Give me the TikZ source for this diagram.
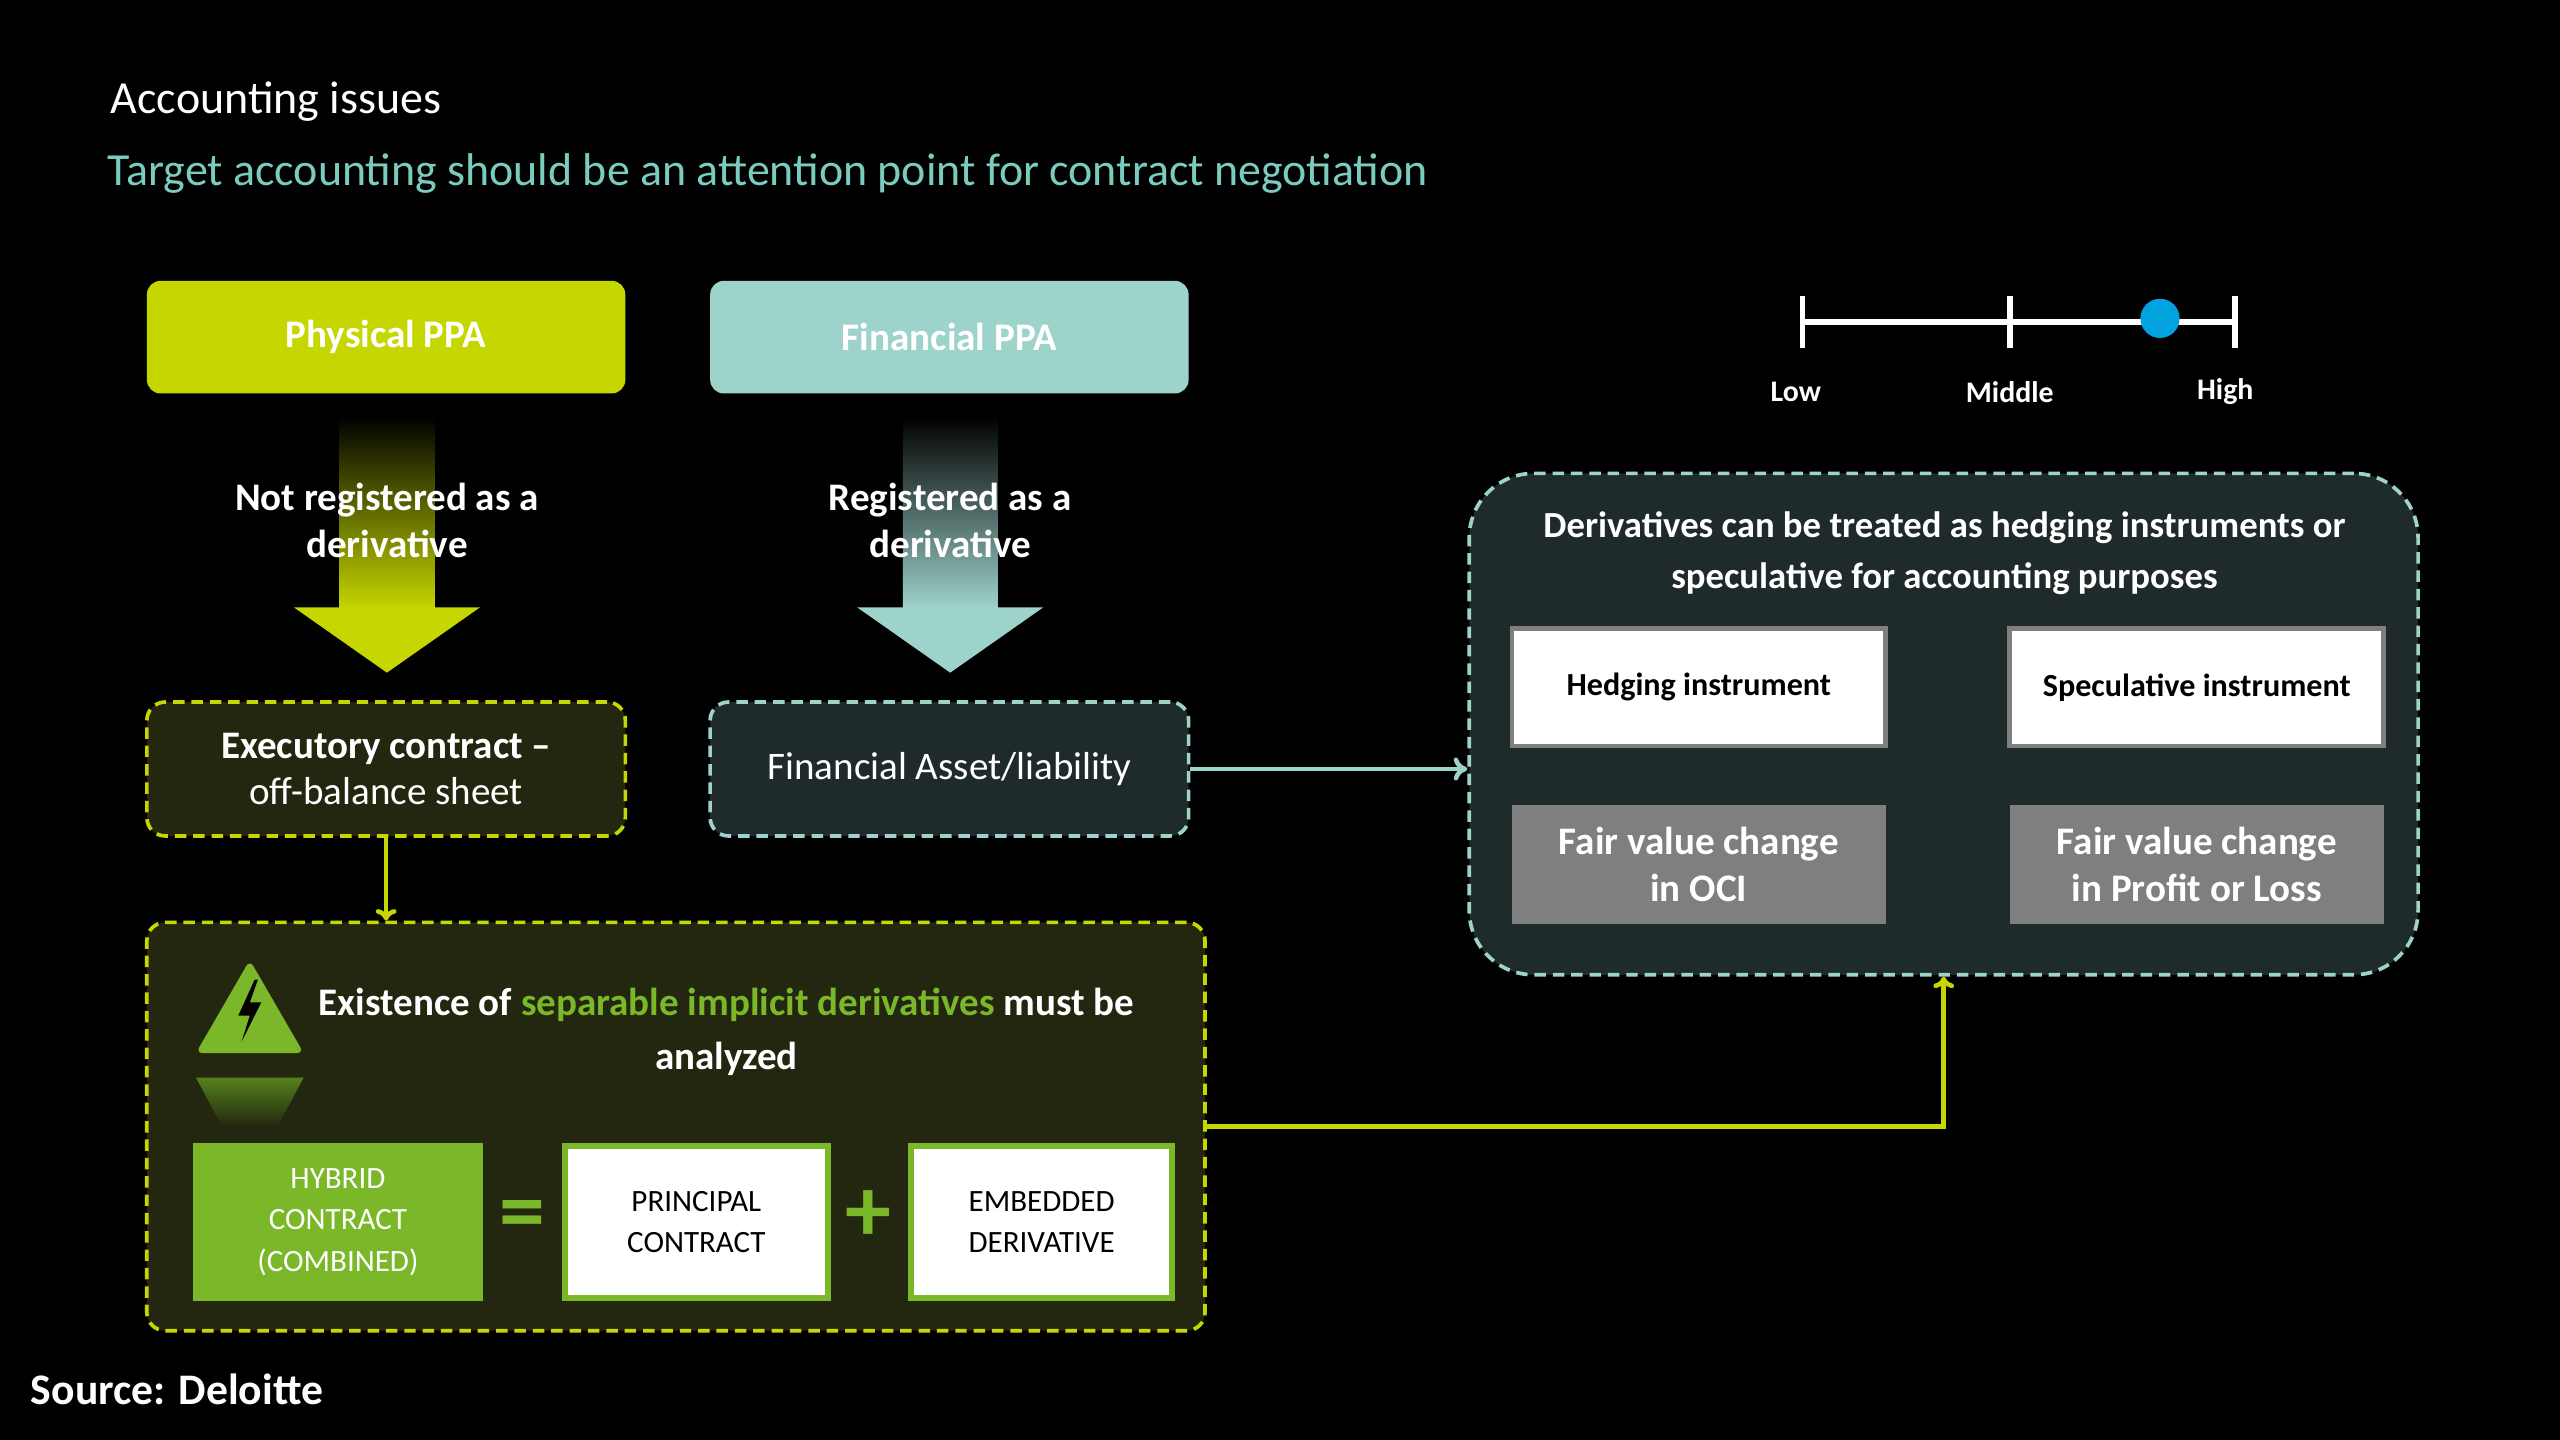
\documentclass[tikz,border=0pt]{standalone}
\usepackage{fontspec}
\setmainfont{Carlito}
\usetikzlibrary{arrows.meta}
\definecolor{lime}{HTML}{C5D600}
\definecolor{teal}{HTML}{9ED3CC}
\definecolor{subteal}{HTML}{7ACCC0}
\definecolor{leaf}{HTML}{7AB829}
\definecolor{olivebg}{HTML}{23270F}
\definecolor{tealbg}{HTML}{1F2A2A}
\definecolor{greybox}{HTML}{7F7F7F}
\definecolor{dotblue}{HTML}{00A3E0}
\newcommand{\fs}[1]{\fontsize{#1}{1.2\dimexpr#1pt\relax}\selectfont}
\tikzset{
  ppa/.style={rounded corners=6pt, minimum width=7.325cm, minimum height=1.725cm, text=white, font=\fs{17}\bfseries},
  dashbox/.style={rounded corners=8pt, line width=1.6pt, dash pattern=on 5pt off 3pt, text=white, align=center},
  whitebox/.style={fill=white, line width=2pt, minimum width=5.725cm, minimum height=1.8cm, font=\fs{14}\bfseries},
  fvbox/.style={fill=greybox, minimum width=5.725cm, minimum height=1.825cm, text=white, align=center, font=\fs{17}\bfseries},
  eqbox/.style={line width=2.5pt, minimum height=2.325cm, align=center, font=\fs{13.5}},
}
\begin{document}
\begin{tikzpicture}[x=0.025cm, y=-0.025cm]
\fill[black] (0,0) rectangle (1568,882);
\useasboundingbox (0,0) rectangle (1568,882);
% titles
\node[anchor=west, text=white, font=\fs{20}] (title) at (63,62) {Accounting issues};
\node[anchor=west, text=subteal, font=\fs{20}] (subtitle) at (61,106) {Target accounting should be an attention point for contract negotiation};
% two PPA columns
\node[ppa, fill=lime] (phys) at (236.5,206.5) {Physical PPA};
\node[ppa, fill=teal] (fin) at (581.5,206.5) {Financial PPA};
\shade[top color=black, bottom color=lime] (208,255) rectangle (266,373);
\fill[lime] (180,372) -- (294,372) -- (237,412) -- cycle;
\shade[top color=black, bottom color=teal] (553,255) rectangle (611,373);
\fill[teal] (525,372) -- (639,372) -- (582,412) -- cycle;
\node[text=white, align=center, font=\fs{17}\bfseries] (notreg) at (237,319) {Not registered as a\\derivative};
\node[text=white, align=center, font=\fs{17}\bfseries] (reg) at (582,319) {Registered as a\\derivative};
\node[dashbox, draw=lime, fill=olivebg, minimum width=7.325cm, minimum height=2.05cm, font=\fs{17}] (exec) at (236.5,471) {\textbf{Executory contract --}\\off-balance sheet};
\node[dashbox, draw=teal, fill=tealbg, minimum width=7.325cm, minimum height=2.05cm, font=\fs{17}] (asset) at (581.5,471) {Financial Asset/liability};
% hybrid contract panel
\node[dashbox, draw=lime, fill=olivebg, minimum width=16.2cm, minimum height=6.25cm] (hybridpanel) at (414,690) {};
\fill[leaf, rounded corners=3pt] (120,645) -- (186,645) -- (153,588) -- cycle;
\fill[black] (156,600) -- (146,622) -- (153,622) -- (148,638) -- (160,614) -- (153,614) -- (158,600) -- cycle;
\shade[top color=leaf!70!black, bottom color=olivebg] (120,660) -- (186,660) -- (170,690) -- (136,690) -- cycle;
\node[text=white, align=center, font=\fs{17}\bfseries] (exist) at (445,632) {Existence of \textcolor{leaf}{separable implicit derivatives} must be\\[3pt]analyzed};
\node[eqbox, fill=leaf, draw=leaf, minimum width=4.35cm, text=white] (hybrid) at (207,748.5) {HYBRID\\[2pt]CONTRACT\\[2pt](COMBINED)};
\node[text=leaf, font=\fs{40}\bfseries] (eq) at (320,748) {=};
\node[eqbox, fill=white, draw=leaf, minimum width=4.025cm] (principal) at (426.5,748.5) {PRINCIPAL\\[2pt]CONTRACT};
\node[text=leaf, font=\fs{40}\bfseries] (plus) at (532,745) {+};
\node[eqbox, fill=white, draw=leaf, minimum width=4.0cm] (embedded) at (638,748.5) {EMBEDDED\\[2pt]DERIVATIVE};
% scale
\coordinate (low) at (1104,197);
\coordinate (mid) at (1231,197);
\coordinate (high) at (1369,197);
\draw[white, line width=2.5pt] (low) -- (high);
\foreach \p in {low,mid,high}{\draw[white, line width=2.5pt] ([yshift=0.4cm]\p) -- ([yshift=-0.4cm]\p);}
\fill[dotblue] (1323,195) circle (0.3cm);
\node[text=white, font=\fs{13}\bfseries] (lowlab) at (1100,240) {Low};
\node[text=white, font=\fs{13}\bfseries] (midlab) at (1231,240) {Middle};
\node[text=white, font=\fs{13}\bfseries] (highlab) at (1363,240) {High};
% accounting treatment panel
\node[dashbox, draw=teal, fill=tealbg, rounded corners=28pt, minimum width=14.525cm, minimum height=7.675cm] (treat) at (1190.5,443.5) {};
\node[text=white, align=center, font=\fs{16}\bfseries] (treattext) at (1191,339) {Derivatives can be treated as hedging instruments or\\[3pt]speculative for accounting purposes};
\node[whitebox, draw=greybox] (hedge) at (1040.5,421) {Hedging instrument};
\node[whitebox, draw=greybox] (spec) at (1345.5,421) {Speculative instrument};
\node[fvbox] (oci) at (1040.5,529.5) {Fair value change\\in OCI};
\node[fvbox] (pl) at (1345.5,529.5) {Fair value change\\in Profit or Loss};
% connectors
\draw[teal, line width=2pt, -{To[length=6pt,width=10pt]}] (asset.east) -- (asset.east -| treat.west);
\draw[lime, line width=2pt, -{To[length=5pt,width=9pt]}] (exec.south) -- (hybridpanel.north -| exec.south);
\draw[lime, line width=2pt, -{To[length=5pt,width=9pt]}] (hybridpanel.east) -| (treat.south);
\node[anchor=west, text=white, font=\fs{19}\bfseries] (source) at (14,851) {Source: Deloitte};
\end{tikzpicture}
\end{document}
